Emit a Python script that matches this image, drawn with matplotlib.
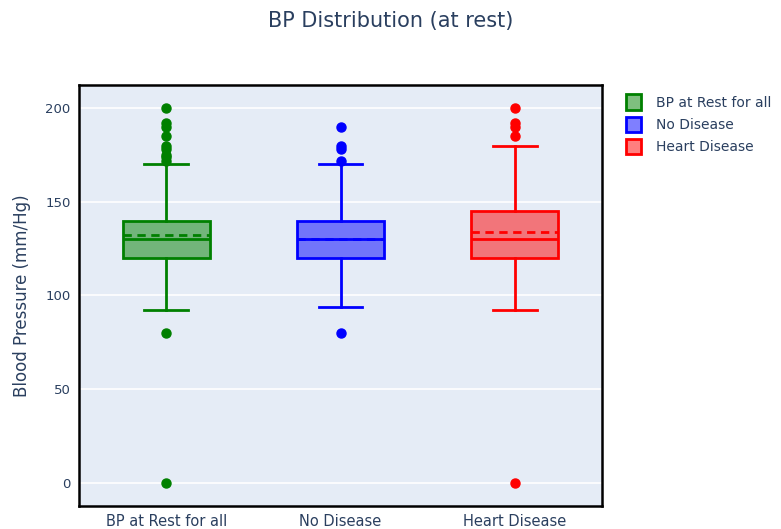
import matplotlib
matplotlib.use("Agg")
import matplotlib.pyplot as plt
from matplotlib.patches import Patch

# box statistics (mm/Hg)
categories = ["BP at Rest for all", "No Disease", "Heart Disease"]
colors = ["green", "blue", "red"]
q1 = [120, 120, 120]
median = [130, 130, 130]
q3 = [140, 140, 145]
mean = [132.5, 130, 134]
whis_lo = [92, 94, 92]
whis_hi = [170, 170, 180]
fliers = [
    [0, 80, 172, 174, 175, 178, 180, 185, 190, 192, 200],
    [80, 172, 178, 180, 190],
    [0, 185, 190, 192, 200],
]
yticks = [0, 50, 100, 150, 200]

txt = "#2a3f5f"
plt.rcParams["font.family"] = ["DejaVu Sans"]

fig = plt.figure(figsize=(7.81, 5.29), dpi=100)
ax = fig.add_axes([0.1012, 0.0435, 0.6697, 0.7958])
ax.set_facecolor("#E5ECF6")

for i, c in enumerate(colors):
    st = dict(label=categories[i], q1=q1[i], med=median[i], q3=q3[i], mean=mean[i],
              whislo=whis_lo[i], whishi=whis_hi[i], fliers=fliers[i])
    ax.bxp([st], positions=[i], widths=0.5, patch_artist=True,
           showmeans=True, meanline=True,
           boxprops=dict(facecolor=matplotlib.colors.to_rgba(c, 0.5), edgecolor=c, linewidth=2),
           medianprops=dict(color=c, linewidth=2),
           meanprops=dict(color=c, linewidth=2, linestyle=(0, (3, 2))),
           whiskerprops=dict(color=c, linewidth=2),
           capprops=dict(color=c, linewidth=2),
           capwidths=0.25,
           flierprops=dict(marker="o", markerfacecolor=c, markeredgecolor=c,
                           markersize=6.5, linestyle="none"),
           zorder=3)

ax.set_xlim(-0.5, 2.5)
ax.set_ylim(-12.3, 212.3)
ax.set_yticks(yticks)
ax.set_xticks(range(len(categories)))
ax.set_xticklabels(categories, fontsize=10.5)
ax.grid(axis="y", color="white", linewidth=1.2, zorder=0)
ax.set_axisbelow(True)
ax.tick_params(axis="y", labelsize=9.5)
ax.tick_params(length=0, colors=txt, pad=6)
for s in ax.spines.values():
    s.set_color("black")
    s.set_linewidth(1.8)
ax.set_ylabel("Blood Pressure (mm/Hg)", color=txt, fontsize=12, labelpad=10)

fig.suptitle("BP Distribution (at rest)", x=0.5, y=0.98, fontsize=15, color=txt)

handles = [Patch(facecolor=matplotlib.colors.to_rgba(c, 0.5), edgecolor=c, linewidth=2)
           for c in colors]
fig.legend(handles, categories, loc="upper left", bbox_to_anchor=(0.785, 0.845),
           frameon=False, fontsize=10, labelcolor=txt, handlelength=1.1,
           handleheight=1.3, handletextpad=1.1, labelspacing=0.5)

fig.savefig("out.png", dpi=100)
